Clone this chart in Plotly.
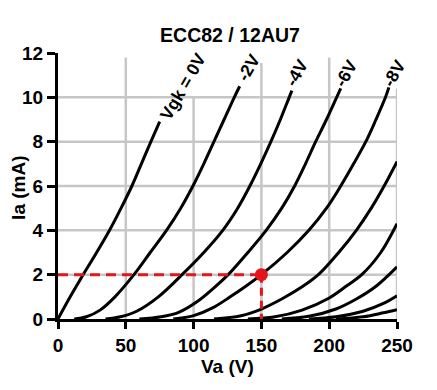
import plotly.graph_objects as go

# ---- data (Va in volts, Ia in mA) ----
VA_G0 = [0, 9, 18.5, 28.5, 38, 46.5, 54.5, 61.5, 68.5, 75]
IA_G0 = [0, 1, 2, 3, 4, 5, 6, 7, 8, 8.9]

VA_G2 = [12, 21, 31, 42, 56, 68, 80, 90.5, 99.5, 107.5, 115, 122.5, 130, 134]
IA_G2 = [0, 0.1, 0.4, 1.0, 2, 3, 4, 5, 6, 7, 8, 9, 10, 10.5]

VA_G4 = [35, 46, 58, 74, 91.5, 107.5, 121.5, 132.5, 141.5, 149.5, 157, 164, 170.5, 172.5]
IA_G4 = [0, 0.1, 0.35, 1.0, 2, 3, 4, 5, 6, 7, 8, 9, 10, 10.3]

VA_G6 = [60, 76, 89, 103, 114, 125.5, 140, 153.5, 165, 174.5, 182.5, 190, 198, 205.5, 208.5]
IA_G6 = [0, 0.1, 0.3, 0.8, 1.35, 2, 3, 4, 5, 6, 7, 8, 9, 10, 10.4]

VA_G8 = [85, 100, 114, 127, 139, 150, 169, 185, 198, 208.5, 218, 227, 234.5, 241.5, 244]
IA_G8 = [0, 0.15, 0.5, 1.0, 1.5, 2, 3, 4, 5, 6, 7, 8, 9, 10, 10.45]

VA_G10 = [115, 135, 150, 165, 180, 192, 207, 220, 231, 240.5, 250]
IA_G10 = [0, 0.15, 0.45, 0.9, 1.45, 2, 3, 4, 5, 6, 7.1]

VA_G12 = [140, 160, 180, 200, 213, 224, 238, 250]
IA_G12 = [0, 0.1, 0.4, 0.95, 1.5, 2, 3, 4.3]

VA_G14 = [165, 185, 205, 220, 235, 250]
IA_G14 = [0, 0.12, 0.45, 0.9, 1.5, 2.35]

VA_G16 = [185, 205, 225, 240, 250]
IA_G16 = [0, 0.1, 0.35, 0.7, 1.05]

VA_G18 = [205, 225, 240, 250]
IA_G18 = [0, 0.1, 0.28, 0.42]

OP_VA = [150]          # operating point
OP_IA = [2]

CURVE_LABELS = ["Vgk = 0V", "-2V", "-4V", "-6V", "-8V"]
X_TICKS = [0, 50, 100, 150, 200, 250]
Y_TICKS = [0, 2, 4, 6, 8, 10, 12]

# label placement (data coords) and grid extents
LABEL_X = [92.5, 141, 176, 212.5, 248]
LABEL_Y = [10.5, 11.35, 11.1, 11.1, 11.1]
VGRID_TOP = [11.8, 10.0, 11.55, 11.8, 10.4]

curves = [
    (VA_G0, IA_G0), (VA_G2, IA_G2), (VA_G4, IA_G4), (VA_G6, IA_G6),
    (VA_G8, IA_G8), (VA_G10, IA_G10), (VA_G12, IA_G12), (VA_G14, IA_G14),
    (VA_G16, IA_G16), (VA_G18, IA_G18),
]

FONT = "Liberation Sans, Arial, sans-serif"
RED = "#e3161b"
BODY = 8  # default page margin of the html body

fig = go.Figure()

for va, ia in curves:
    fig.add_trace(go.Scatter(
        x=va, y=ia, mode="lines",
        line=dict(color="black", width=3, shape="spline", smoothing=1.0),
        hoverinfo="skip", showlegend=False, cliponaxis=False,
    ))

# dashed operating-point lines
fig.add_trace(go.Scatter(
    x=[0, OP_VA[0]], y=[OP_IA[0], OP_IA[0]], mode="lines",
    line=dict(color=RED, width=3, dash="10px,6px"), showlegend=False,
))
fig.add_trace(go.Scatter(
    x=[OP_VA[0], OP_VA[0]], y=[OP_IA[0], 0], mode="lines",
    line=dict(color=RED, width=3, dash="8px,5px"), showlegend=False,
))
fig.add_trace(go.Scatter(
    x=OP_VA, y=OP_IA, mode="markers",
    marker=dict(color=RED, size=13), showlegend=False, cliponaxis=False,
))

# grid lines as shapes (the reference grid has uneven top ends)
shapes = []
for yv in Y_TICKS[1:-1]:
    shapes.append(dict(type="line", xref="x", yref="y", x0=0, x1=X_TICKS[-1],
                       y0=yv, y1=yv, layer="below",
                       line=dict(color="#c6c6c6", width=2.5)))
for xv, top in zip(X_TICKS[1:], VGRID_TOP):
    shapes.append(dict(type="line", xref="x", yref="y", x0=xv, x1=xv,
                       y0=0, y1=top, layer="below",
                       line=dict(color="#c6c6c6", width=2.5)))

annotations = []
for txt, lx, ly in zip(CURVE_LABELS, LABEL_X, LABEL_Y):
    annotations.append(dict(
        text=txt, x=lx, y=ly, xref="x", yref="y", showarrow=False,
        textangle=-60, xanchor="center", yanchor="middle",
        font=dict(family=FONT, size=17.5, color="black", weight="bold"),
    ))
annotations.append(dict(
    text="Ia (mA)", x=-0.115, y=0.493, xref="paper", yref="paper",
    showarrow=False, textangle=-90, xanchor="center", yanchor="middle",
    font=dict(family=FONT, size=19, color="black", weight="bold"),
))
annotations.append(dict(
    text="Va (V)", x=0.50, y=-0.178, xref="paper", yref="paper",
    showarrow=False, xanchor="center", yanchor="middle",
    font=dict(family=FONT, size=19, color="black", weight="bold"),
))

fig.update_layout(
    width=437, height=390,
    margin=dict(l=58 - BODY, r=40 + BODY, t=53 - BODY, b=71 + BODY),
    paper_bgcolor="white", plot_bgcolor="white",
    title=dict(text="ECC82 / 12AU7", x=(230 - BODY) / 437, y=1 - (35 - BODY) / 390,
               xref="container", yref="container",
               xanchor="center", yanchor="middle",
               font=dict(family=FONT, size=19.5, color="black", weight="bold")),
    shapes=shapes, annotations=annotations,
    showlegend=False,
)
fig.update_xaxes(
    range=[0, 250], tickvals=X_TICKS, showgrid=False, zeroline=False,
    showline=True, linecolor="black", linewidth=3,
    ticks="outside", ticklen=7, tickwidth=2.5, tickcolor="black",
    ticklabelstandoff=0,
    tickfont=dict(family=FONT, size=19, color="black", weight="bold"),
)
fig.update_yaxes(
    range=[0, 12], tickvals=Y_TICKS, showgrid=False, zeroline=False,
    showline=True, linecolor="black", linewidth=3,
    ticks="outside", ticklen=8, tickwidth=2.5, tickcolor="black",
    tickfont=dict(family=FONT, size=19, color="black", weight="bold"),
)

fig.write_html("out.html")
